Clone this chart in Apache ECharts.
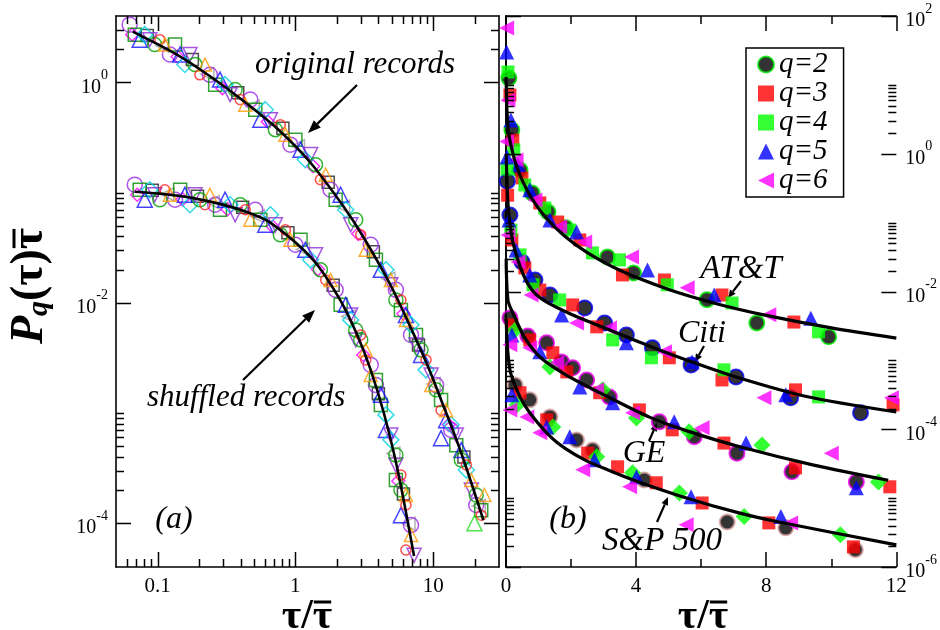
<!DOCTYPE html>
<html><head><meta charset="utf-8">
<script src="https://cdn.jsdelivr.net/npm/echarts@6/dist/echarts.min.js"></script>
<style>html,body{margin:0;padding:0;background:#fff}#c{width:940px;height:630px}</style>
</head><body><div id="c"></div>
<script>
// ---------- panel (a): fitted curves ----------
const origFit = [[0.0661,2.888],[0.1383,1.785],[0.2405,1.136],[0.4183,0.682],[0.7405,0.3797],[1.288,0.1865],[2.242,0.0743],[3.136,0.03887],[4.934,0.01424],[7.259,0.00511],[9.18,0.00262],[11.42,0.001312],[15.97,4.33e-4],[23.11,1.066e-4]];
const shufFit = [[0.0684,0.1017],[0.1383,0.0939],[0.2405,0.0827],[0.4183,0.0684],[0.6585,0.0533],[1.355,0.02428],[2.132,0.01041],[2.836,0.004971],[3.527,0.002436],[4.387,9.94e-4],[5.548,2.948e-4],[7.259,5.03e-5]];
// ---------- panel (a): original records ----------
const orig0 = [[0.0628,3.34],[0.123,1.79],[0.240,1.17],[0.471,0.697],[0.921,0.272],[1.80,0.106],[3.52,0.0336],[5.36,0.0131],[6.90,0.00511],[10.5,0.00179],[13.5,7.0e-4],[20.5,1.46e-4]];
const orig1 = [[0.0684,2.71],[0.134,2.20],[0.262,0.953],[0.512,0.565],[1.00,0.302],[1.96,0.0861],[3.84,0.0245],[5.83,0.00861],[7.50,0.00511],[11.4,0.00131],[14.7,5.1e-4],[22.3,1.31e-4]];
const orig2 = [[0.0743,2.44],[0.146,1.79],[0.284,1.06],[0.557,0.458],[1.09,0.245],[2.13,0.0955],[4.17,0.0199],[6.34,0.00776],[8.16,0.00336],[12.4,8.6e-4],[16.0,4.6e-4],[11.4,5.9e-4]];
const orig3 = [[0.0808,2.71],[0.158,1.45],[0.309,0.953],[0.605,0.565],[1.18,0.199],[2.32,0.0698],[4.54,0.0199],[6.90,0.0063],[8.87,0.00246],[13.5,7.8e-4],[17.4,3.03e-4]];
const orig4 = [[0.0879,2.44],[0.172,1.79],[0.336,0.773],[0.659,0.458],[1.29,0.221],[2.52,0.0510],[4.93,0.0146],[7.50,0.00414],[9.66,0.00221],[14.7,6.3e-4],[18.9,2.0e-4]];
const orig5 = [[0.0955,2.20],[0.187,1.45],[0.366,0.859],[0.716,0.372],[1.40,0.179],[2.74,0.0566],[5.36,0.0106],[8.16,0.00373],[10.5,0.00162],[16.0,3.74e-4],[20.5,1.80e-4]];
const orig6 = [[0.104,2.44],[0.203,1.17],[0.398,0.697],[0.778,0.413],[1.52,0.131],[2.98,0.0414],[5.83,0.0106],[8.87,0.00303],[11.4,0.00106],[17.4,3.37e-4],[22.3,1.18e-4]];
const orig7 = [[0.113,2.20],[0.221,1.45],[0.433,0.627],[0.847,0.335],[1.66,0.145],[3.24,0.0302],[4.93,0.0161],[6.34,0.00699],[9.66,0.00179],[12.4,0.00106],[18.9,2.46e-4],[23.5,1.8e-4]];
const origX0 = [[0.0655,2.71],[0.140,1.71],[0.296,0.886],[0.631,0.44],[1.344,0.173],[2.86,0.0422],[6.08,0.00794],[12.94,7.8e-4]];
const origX1 = [[0.0843,2.66],[0.179,1.61],[0.382,0.806],[0.812,0.384],[1.73,0.124],[3.68,0.029],[7.82,0.00414],[16.7,3.98e-4]];
const origX2 = [[0.1085,2.15],[0.230,1.187],[0.491,0.602],[1.044,0.263],[2.22,0.0743],[4.73,0.0165],[10.07,0.00183],[21.4,1.43e-4]];
const origLime = [[19.9,1.0e-4]];
// ---------- panel (a): shuffled records ----------
const shuf0 = [[0.0684,0.118],[0.134,0.0861],[0.262,0.0775],[0.512,0.0698],[1.00,0.0336],[1.96,0.0131],[3.52,0.00273],[3.84,0.00179],[6.90,9.6e-5]];
const shuf1 = [[0.0743,0.106],[0.146,0.106],[0.284,0.0698],[0.557,0.0566],[1.09,0.0372],[2.13,0.00957],[3.84,0.00199],[4.17,0.00118],[5.36,2.46e-4]];
const shuf2 = [[0.0808,0.0861],[0.158,0.0955],[0.309,0.0861],[0.605,0.0510],[1.18,0.0302],[2.32,0.00957],[4.17,0.00146],[4.54,7.0e-4],[5.83,1.18e-4]];
const shuf3 = [[0.0879,0.106],[0.172,0.0775],[0.336,0.0775],[0.659,0.0628],[1.29,0.0245],[2.52,0.00699],[4.54,9.6e-4],[4.93,5.7e-4]];
const shuf4 = [[0.0955,0.0955],[0.187,0.0955],[0.366,0.0628],[0.716,0.0510],[1.40,0.0272],[2.52,0.00776],[2.74,0.0046],[4.93,6.3e-4],[5.36,3.37e-4],[7.26,5.1e-5]];
const shuf5 = [[0.104,0.0861],[0.203,0.0861],[0.398,0.0775],[0.778,0.0414],[1.52,0.0199],[2.74,0.00567],[2.98,0.0046],[5.36,4.15e-4],[5.83,2.0e-4]];
const shuf6 = [[0.113,0.106],[0.221,0.0775],[0.433,0.0698],[0.847,0.0459],[1.66,0.0161],[2.98,0.00511],[3.24,0.00303],[5.83,2.73e-4],[6.34,1.46e-4],[6.34,5.7e-5]];
const shuf7 = [[0.123,0.0955],[0.240,0.0955],[0.471,0.0566],[0.921,0.0372],[1.80,0.0161],[3.24,0.00373],[3.52,0.00221],[6.34,1.80e-4],[6.90,7.8e-5]];
const shufX0 = [[0.0713,0.0955],[0.152,0.0869],[0.322,0.0705],[0.687,0.0489],[1.458,0.0201],[3.11,0.00336],[5.59,2.41e-4]];
const shufX1 = [[0.0916,0.105],[0.195,0.0926],[0.415,0.0735],[0.883,0.0431],[1.88,0.0144],[4.0,0.00149],[6.08,1.84e-4]];
const shufX2 = [[0.118,0.0965],[0.251,0.0816],[0.534,0.061],[1.134,0.0305],[2.42,0.00752],[5.14,4.29e-4],[6.62,9.9e-5]];

// ---------- panel (b): fitted curves ----------
const attFit = [[0.004,13],[0.03,4.2],[0.08,2.0],[0.15,1.35],[0.3,0.716],[0.5,0.411],[0.8,0.222],[1.2,0.122],[1.8,0.0638],[2.5,0.0366],[3.5,0.0203],[5,0.0107],[6.5,0.0066],[8,0.0045],[10,0.00296],[12,0.0021]];
const citiFit = [[0.005,1.0],[0.06,0.19],[0.13,0.09],[0.22,0.0501],[0.5,0.0191],[0.8,0.0105],[1.2,0.00724],[2.0,0.00468],[2.88,0.00316],[4.4,0.00162],[5.7,9.55e-4],[7.2,5.5e-4],[9.2,3.02e-4],[12,1.78e-4]];
const geFit = [[0.005,0.03],[0.06,0.0075],[0.21,0.0049],[0.58,0.00212],[1.07,0.00109],[1.84,6.17e-4],[2.88,3.4e-4],[4.41,1.5e-4],[5.54,9.55e-5],[7.16,5.62e-5],[9.46,3.02e-5],[11.75,1.82e-5]];
const spFit = [[0.005,0.004],[0.12,7.3e-4],[0.43,2.95e-4],[0.73,1.74e-4],[1.35,7.94e-5],[1.84,5.18e-5],[2.42,3.6e-5],[3.12,2.58e-5],[3.89,1.85e-5],[5.42,1.05e-5],[7.16,6.1e-6],[8.39,4.5e-6],[12,2.1e-6]];
// ---------- panel (b): AT&T ----------
const att2 = [[0.09,12.6],[0.18,2.21],[0.43,0.58],[0.80,0.27],[1.29,0.143],[1.84,0.084],[3.12,0.0318],[3.92,0.0186],[6.18,0.0076],[7.71,0.0035],[9.92,0.0022]];
const att3 = [[0.12,7.1],[0.21,1.58],[0.49,0.446],[1.04,0.193],[1.59,0.102],[2.27,0.056],[3.58,0.0174],[4.87,0.0147],[6.64,0.0089],[8.85,0.0036]];
const att4 = [[0.06,15.4],[0.24,1.14],[0.58,0.352],[1.19,0.163],[1.96,0.078],[2.66,0.0363],[3.49,0.0288],[4.96,0.0125],[6.95,0.0068],[9.61,0.0026]];
const att5 = [[0.02,30],[0.15,3.1],[0.37,0.69],[0.73,0.3],[1.35,0.109],[2.17,0.073],[4.35,0.0206],[6.4,0.0089],[9.37,0.0041]];
const att6 = [[0.02,67],[0.06,6.0],[0.31,0.81],[0.89,0.213],[1.65,0.087],[2.42,0.0525],[3.86,0.0318],[5.57,0.0113],[8.08,0.0046]];
// ---------- Citi ----------
const citi2 = [[0.04,0.4],[0.12,0.129],[0.49,0.0269],[0.89,0.0147],[1.35,0.0089],[2.42,0.00578],[3.03,0.0035],[3.70,0.00234],[4.50,0.00152],[5.69,8.6e-4],[7.07,5.75e-4],[8.75,2.86e-4],[10.9,1.73e-4]];
const citi3 = [[0.05,0.25],[0.18,0.056],[0.58,0.022],[1.04,0.0105],[2.05,0.00638],[2.79,0.00307],[5.02,0.00109],[6.64,5.2e-4],[8.9,3.73e-4],[11.9,2.26e-4]];
const citi4 = [[0.03,0.6],[0.15,0.078],[0.43,0.034],[0.83,0.0125],[1.65,0.00755],[3.28,0.00198],[4.47,0.00109],[6.7,7.3e-4],[9.61,2.95e-4]];
const citi5 = [[0.03,0.9],[0.09,0.109],[0.31,0.0402],[0.73,0.0174],[1.71,0.00457],[3.70,0.0018],[5.72,9.5e-4],[8.6,3.16e-4]];
const citi6 = [[0.02,1.5],[0.06,0.066],[0.37,0.0269],[0.77,0.0089],[2.17,0.0035],[3.18,0.00296],[4.87,0.00133],[7.93,2.86e-4],[11.85,2.86e-4]];
// ---------- GE ----------
const ge2 = [[0.12,0.00414],[0.67,0.00226],[1.25,0.0018],[1.71,9.5e-4],[2.05,7.8e-4],[2.48,5.2e-4],[3.18,2.95e-4],[4.71,1.28e-4],[5.79,7.8e-5],[7.1,4.5e-5],[8.79,2.41e-5],[10.77,1.72e-5]];
const ge3 = [[0.18,0.00327],[0.73,0.00198],[1.44,0.00129],[1.87,6.8e-4],[2.88,3.39e-4],[4.1,1.91e-4],[5.11,9.8e-5],[6.7,6.3e-5],[8.9,2.75e-5],[11.8,1.46e-5]];
const ge4 = [[0.28,0.00277],[1.35,8.0e-4],[2.97,3.73e-4],[4.01,1.46e-4],[5.63,9.2e-5],[7.87,5.9e-5],[11.45,1.72e-5]];
const ge5 = [[0.18,0.00234],[1.04,0.00133],[2.27,4.12e-4],[3.28,2.42e-4],[5.17,1.28e-4],[7.38,6.3e-5],[10.77,1.41e-5]];
const ge6 = [[0.12,0.00168],[0.73,0.00152],[1.56,9.2e-4],[2.79,3.73e-4],[3.89,1.73e-4],[6.03,1.05e-4],[10.0,4.5e-5]];
// ---------- S&P 500 ----------
const sp2 = [[0.28,4.4e-4],[0.73,2.67e-4],[1.35,1.51e-4],[2.17,7.0e-5],[2.66,5.0e-5],[4.25,1.84e-5],[6.8,4.5e-6],[8.6,3.7e-6],[10.74,1.78e-6]];
const sp3 = [[0.43,3.39e-4],[1.25,1.37e-4],[2.51,4.5e-5],[3.43,2.85e-5],[4.62,1.67e-5],[6.03,8.5e-6],[8.08,4.37e-6],[10.68,1.96e-6]];
const sp4 = [[0.34,2.26e-4],[1.44,1.08e-4],[2.79,3.98e-5],[3.89,2.33e-5],[5.33,1.19e-5],[7.32,5.4e-6],[10.28,2.95e-6]];
const sp5 = [[0.18,3.16e-4],[1.25,1.08e-4],[1.96,7.8e-5],[2.72,3.6e-5],[4.01,2.04e-5],[5.69,1.05e-5],[8.45,5.4e-6]];
const sp6 = [[0.12,1.91e-4],[0.64,1.51e-4],[1.04,8.9e-5],[2.36,2.58e-5],[3.8,1.46e-5],[5.54,4.1e-6],[8.75,4.37e-6]];

// ---------- tick values ----------
const leftXMajor = [0.1, 1, 10];
const leftXMinor = [0.06,0.07,0.08,0.09,0.2,0.3,0.4,0.5,0.6,0.7,0.8,0.9,2,3,4,5,6,7,8,9,20];
const leftYMajor = [1e-4, 1e-2, 1];
const leftYMinor = [2e-4,3e-4,4e-4,5e-4,6e-4,7e-4,8e-4,9e-4,1e-3,2e-2,3e-2,4e-2,5e-2,6e-2,7e-2,8e-2,9e-2,1e-1,2,3];
const rightYMajor = [1e-6, 1e-4, 1e-2, 1, 100];
const rightYMinor = [2e-6,3e-6,4e-6,5e-6,6e-6,7e-6,8e-6,9e-6,1e-5,2e-4,3e-4,4e-4,5e-4,6e-4,7e-4,8e-4,9e-4,1e-3,2e-2,3e-2,4e-2,5e-2,6e-2,7e-2,8e-2,9e-2,1e-1,2,3,4,5,6,7,8,9,10];
const qNames = ['q=2','q=3','q=4','q=5','q=6'];

// ================= build =================
const FAM = "'Liberation Serif', 'Times New Roman', serif";
const triDown = 'path://M0,0L10,0L5,10Z';
const triLeft = 'path://M10,0L10,10L0,5Z';
const chart = echarts.init(document.getElementById('c'), null, {renderer:'canvas'});

const leftStyles = [
  {sym:'circle', size:15, color:'#9a28e6'},
  {sym:'rect', size:13, color:'#008a00'},
  {sym:'triangle', size:15, color:'#1414ff'},
  {sym:'diamond', size:16, color:'#00d2e2'},
  {sym:triDown, size:14, color:'#8e2ad6'},
  {sym:'circle', size:14, color:'#00a000'},
  {sym:'circle', size:10, color:'#ff2020'},
  {sym:'triangle', size:13, color:'#ff9a00'}
];
const extraStyles = [
  {sym:'diamond', size:13, color:'#ff00ff'},
  {sym:'rect', size:12, color:'#202020'},
  {sym:triLeft, size:13, color:'#a0a0a0'}
];
const origSets = [orig0,orig1,orig2,orig3,orig4,orig5,orig6,orig7];
const shufSets = [shuf0,shuf1,shuf2,shuf3,shuf4,shuf5,shuf6,shuf7];
const series = [];
function openScatter(name, data, st){
  return {type:'scatter', name, xAxisIndex:0, yAxisIndex:0, data, symbol:st.sym, symbolSize:st.size,
    itemStyle:{color:'rgba(0,0,0,0)', borderColor:st.color, borderWidth:1.5}, z:2, silent:true};
}
[origX0,origX1,origX2].forEach((d,i)=>series.push(openScatter('origX'+i, d, extraStyles[i])));
[shufX0,shufX1,shufX2].forEach((d,i)=>series.push(openScatter('shufX'+i, d, extraStyles[i])));
origSets.forEach((d,i)=>series.push(openScatter('orig'+i, d, leftStyles[i])));
shufSets.forEach((d,i)=>series.push(openScatter('shuf'+i, d, leftStyles[i])));
series.push(openScatter('origLime', origLime, {sym:'triangle', size:15, color:'#22dd22'}));
[origFit, shufFit].forEach((d,i)=>series.push({type:'line', name:'fitA'+i, xAxisIndex:0, yAxisIndex:0, data:d,
  showSymbol:false, smooth:0.3, lineStyle:{color:'#000', width:2.6}, z:4, silent:true}));

const stocks = [
  {key:'att', edge:'#00e800', q4:'rect', sets:[att2,att3,att4,att5,att6], fit:attFit},
  {key:'citi', edge:'#0000ee', q4:'rect', sets:[citi2,citi3,citi4,citi5,citi6], fit:citiFit},
  {key:'ge', edge:'#ee00ee', q4:'diamond', sets:[ge2,ge3,ge4,ge5,ge6], fit:geFit},
  {key:'sp', edge:'#d8a0a0', q4:'diamond', sets:[sp2,sp3,sp4,sp5,sp6], fit:spFit}
];
stocks.forEach(s=>{
  const styles = [
    {symbol:'circle', symbolSize:15, itemStyle:{color:'#000', borderColor:s.edge, borderWidth:2}},
    {symbol:'rect', symbolSize:13, itemStyle:{color:'#ff0000'}},
    {symbol:s.q4, symbolSize:s.q4==='rect'?13:17, itemStyle:{color:'#00ff00'}},
    {symbol:'triangle', symbolSize:15, itemStyle:{color:'#0000ff'}},
    {symbol:triLeft, symbolSize:15, itemStyle:{color:'#ff00ff'}}
  ];
  s.sets.forEach((d,i)=>series.push(Object.assign({type:'scatter', name:qNames[i], xAxisIndex:2, yAxisIndex:3, data:d, z:2, silent:true}, styles[i])));
});
stocks.forEach(s=>series.push({type:'line', name:'fit_'+s.key, xAxisIndex:2, yAxisIndex:3, data:s.fit,
  showSymbol:false, smooth:0.3, lineStyle:{color:'#000', width:3.2}, z:4, silent:true}));

// tick marks (log axes with 2..9 minor ticks, mirrored on both sides)
function tickSeries(xi, yi, items){
  return {type:'custom', xAxisIndex:xi, yAxisIndex:yi, data:items, silent:true, z:6, clip:false,
    renderItem:function(params, api){
      const cs = params.coordSys; const kind = api.value(2);
      const st = {stroke:'#000', lineWidth:1.5};
      if (kind < 2){
        const y = Math.round(api.coord([api.value(0), api.value(1)])[1]) + 0.5;
        const len = kind === 1 ? 15 : 8;
        return {type:'group', children:[
          {type:'line', shape:{x1:cs.x, y1:y, x2:cs.x+len, y2:y}, style:st},
          {type:'line', shape:{x1:cs.x+cs.width-len, y1:y, x2:cs.x+cs.width, y2:y}, style:st}]};
      } else {
        const x = Math.round(api.coord([api.value(0), api.value(1)])[0]) + 0.5;
        const len = kind === 3 ? 15 : 8;
        return {type:'group', children:[
          {type:'line', shape:{x1:x, y1:cs.y, x2:x, y2:cs.y+len}, style:st},
          {type:'line', shape:{x1:x, y1:cs.y+cs.height-len, x2:x, y2:cs.y+cs.height}, style:st}]};
      }
    }};
}
const leftTicks = [].concat(
  leftYMajor.map(v=>[1, v, 1]), leftYMinor.map(v=>[1, v, 0]),
  leftXMajor.map(v=>[v, 0.01, 3]), leftXMinor.map(v=>[v, 0.01, 2]));
const rightTicks = [].concat(rightYMajor.map(v=>[6, v, 1]), rightYMinor.map(v=>[6, v, 0]));
series.push(tickSeries(0, 0, leftTicks));
series.push(tickSeries(2, 3, rightTicks));

const axLine = {show:true, lineStyle:{color:'#000', width:1.6}};
const richSup = {
  b:{fontSize:20, fontFamily:FAM, color:'#000', padding:[10,0,0,0]},
  s:{fontSize:14, fontFamily:FAM, color:'#000', padding:[0,0,14,0]}
};
function powLabel(v){
  const l = Math.log10(v), e = Math.round(l);
  if (Math.abs(l - e) > 0.01 || e % 2 !== 0) return '';
  return '{b|10}{s|' + (e < 0 ? '-' + (-e) : e) + '}';
}
const option = {
  animation:false,
  backgroundColor:'#fff',
  textStyle:{fontFamily:FAM},
  grid:[{left:116, top:16, width:383, height:551}, {left:506, top:16, width:392, height:551}],
  xAxis:[
    {gridIndex:0, type:'log', logBase:10, min:0.05, max:30, position:'bottom', axisLine:axLine, axisTick:{show:false}, splitLine:{show:false},
      axisLabel:{fontSize:21, fontFamily:FAM, color:'#000', margin:9, showMinLabel:false, showMaxLabel:false,
        formatter:v=>{const l=Math.log10(v), e=Math.round(l); if(Math.abs(l-e)>0.01) return ''; return e===-1?'0.1':(e===0?'1':(e===1?'10':''));}}},
    {gridIndex:0, type:'log', logBase:10, min:0.05, max:30, position:'top', axisLine:axLine, axisTick:{show:false}, splitLine:{show:false}, axisLabel:{show:false}},
    {gridIndex:1, type:'value', min:0, max:12, interval:4, position:'bottom', axisLine:axLine, splitLine:{show:false},
      axisTick:{show:true, inside:true, length:15, lineStyle:{color:'#000', width:1.5}},
      minorTick:{show:true, splitNumber:2, length:8, lineStyle:{color:'#000', width:1.5}},
      axisLabel:{fontSize:21, fontFamily:FAM, color:'#000', margin:9}},
    {gridIndex:1, type:'value', min:0, max:12, interval:4, position:'top', axisLine:axLine, splitLine:{show:false},
      axisTick:{show:true, inside:true, length:15, lineStyle:{color:'#000', width:1.5}},
      minorTick:{show:true, splitNumber:2, length:8, lineStyle:{color:'#000', width:1.5}},
      axisLabel:{show:false}}
  ],
  yAxis:[
    {gridIndex:0, type:'log', logBase:10, min:4e-5, max:4, position:'left', axisLine:axLine, axisTick:{show:false}, splitLine:{show:false},
      axisLabel:{margin:8, showMinLabel:false, showMaxLabel:false, formatter:powLabel, rich:richSup}},
    {gridIndex:0, type:'log', logBase:10, min:4e-5, max:4, position:'right', axisLine:axLine, axisTick:{show:false}, splitLine:{show:false}, axisLabel:{show:false}},
    {gridIndex:1, type:'log', logBase:10, min:1e-6, max:100, position:'left', axisLine:axLine, axisTick:{show:false}, splitLine:{show:false}, axisLabel:{show:false}},
    {gridIndex:1, type:'log', logBase:10, min:1e-6, max:100, position:'right', axisLine:axLine, axisTick:{show:false}, splitLine:{show:false},
      axisLabel:{margin:9, formatter:powLabel, rich:richSup}}
  ],
  legend:{data:qNames, left:746, top:48, orient:'vertical', itemWidth:16, itemHeight:16, itemGap:0,
    padding:[2,16,2,11], borderColor:'#000', borderWidth:1.5, backgroundColor:'#fff', selectedMode:false,
    textStyle:{fontFamily:FAM, fontStyle:'italic', fontSize:29, color:'#000'}},
  series
};
chart.setOption(option);

// ---------- annotations ----------
function arrow(x1,y1,x2,y2,L,W){
  const a = Math.atan2(y2-y1, x2-x1);
  const bx = x2 - L*Math.cos(a), by = y2 - L*Math.sin(a);
  const px = -Math.sin(a)*W, py = Math.cos(a)*W;
  return [
    {type:'line', shape:{x1, y1, x2:bx, y2:by}, style:{stroke:'#000', lineWidth:2.2}, silent:true},
    {type:'polygon', shape:{points:[[x2,y2],[bx+px,by+py],[bx-px,by-py]]}, style:{fill:'#000'}, silent:true}
  ];
}
function txt(t, x, y, size, align){
  return {type:'text', x, y, silent:true, z:10,
    style:{text:t, font:'italic ' + size + 'px ' + FAM, fill:'#000', align:align||'left', verticalAlign:'middle'}};
}
const mctx = document.createElement('canvas').getContext('2d');
function tw(t, font){ mctx.font = font; return mctx.measureText(t).width; }
const g = [];
g.push(txt('original records', 255, 65, 31));
g.push(txt('shuffled records', 147, 398, 31));
g.push(txt('(a)', 174, 520, 32, 'center'));
g.push(txt('(b)', 568, 520, 32, 'center'));
g.push(txt('AT&T', 741, 269, 33, 'center'));
g.push(txt('Citi', 702, 334, 32, 'center'));
g.push(txt('GE', 644, 454, 32, 'center'));
g.push(txt('S&P 500', 662, 541, 33, 'center'));
g.push(...arrow(357,85,308,133,13,5));
g.push(...arrow(243,380,315,310,13,5));
g.push(...arrow(741,281,728,298,8,3.5));
g.push(...arrow(704,346,695,362,8,3.5));
g.push(...arrow(649,441,657,423,8,3.5));
g.push(...arrow(657,522,668,497,8,3.5));
// x axis titles: tau / tau-bar
const xtFont = 'bold 42px ' + FAM;
[307, 703].forEach(cx=>{
  const tot = tw('\u03c4/\u03c4', xtFont), w1 = tw('\u03c4/', xtFont), w2 = tw('\u03c4', xtFont);
  const x0 = cx - tot/2;
  g.push({type:'text', x:x0, y:617, silent:true, style:{text:'\u03c4/\u03c4', font:xtFont, fill:'#000', align:'left', verticalAlign:'middle'}});
  g.push({type:'line', silent:true, shape:{x1:x0+w1+1, y1:602, x2:x0+w1+w2-1, y2:602}, style:{stroke:'#000', lineWidth:3}});
});
// y axis title: P_q(tau) tau-bar, rotated
const pF = 'italic bold 46px ' + FAM, qF = 'italic bold 30px ' + FAM, rF = 'bold 46px ' + FAM;
const wP = tw('P', pF), wQ = tw('q', qF), wR = tw('(\u03c4)', rF), wT = tw('\u03c4', rF);
const totY = wP + wQ + wR + wT;
const s0 = -totY/2;
g.push({type:'group', x:30, y:286, rotation:Math.PI/2, silent:true, children:[
  {type:'text', x:s0, y:0, style:{text:'P', font:pF, fill:'#000', align:'left', verticalAlign:'middle'}},
  {type:'text', x:s0+wP, y:9, style:{text:'q', font:qF, fill:'#000', align:'left', verticalAlign:'middle'}},
  {type:'text', x:s0+wP+wQ, y:0, style:{text:'(\u03c4)\u03c4', font:rF, fill:'#000', align:'left', verticalAlign:'middle'}},
  {type:'line', shape:{x1:s0+wP+wQ+wR+1, y1:-16, x2:s0+wP+wQ+wR+wT-1, y2:-16}, style:{stroke:'#000', lineWidth:3}}
]});
chart.setOption({graphic:g});
</script></body></html>
